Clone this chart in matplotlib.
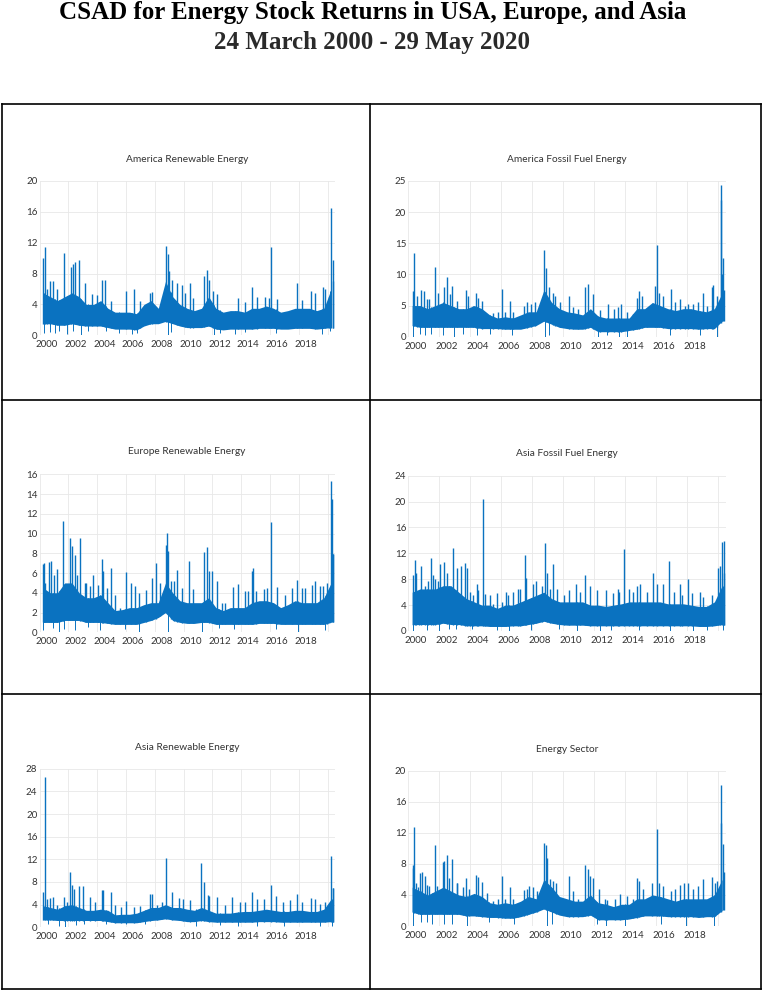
#!/usr/bin/env python3
"""CSAD panels for energy stock returns (USA, Europe, Asia), 2000-2020."""

import numpy as np
import matplotlib
matplotlib.use("Agg")
import matplotlib.pyplot as plt
from matplotlib.lines import Line2D

W, H, DPI = 764, 992, 100
BLUE = "#0a72c0"
GRID = "#e8e8e8"
TEXT = "#333333"

TITLE_1 = "CSAD for Energy Stock Returns in USA, Europe, and Asia"
TITLE_2 = "24 March 2000 - 29 May 2020"

X_LABELS = ["2000", "2002", "2004", "2006", "2008", "2010", "2012", "2014", "2016", "2018"]

# half-year bins (centre dates) for the dense core of each series
HALF_YEARS = np.arange(2000.25, 2020.5, 0.5)

# ---- America Renewable Energy ----
am_ren_hi = [5.5, 5.0, 4.5, 5.0, 5.5, 5.0, 4.0, 4.0, 4.5, 3.5, 3.0, 3.0, 3.0, 2.8,
             4.0, 4.5, 3.5, 7.0, 5.0, 4.0, 3.5, 3.2, 3.5, 5.0, 3.5, 3.0, 3.2, 3.2,
             3.0, 3.5, 3.5, 3.8, 3.5, 3.0, 3.2, 3.5, 3.5, 3.5, 3.2, 3.5, 6.0]
am_ren_lo = [1.5, 1.5, 1.3, 1.3, 1.5, 1.3, 1.2, 1.2, 1.2, 1.0, 0.8, 0.8, 0.8, 0.7,
             1.2, 1.5, 1.5, 1.8, 1.5, 1.2, 1.0, 1.0, 1.0, 1.2, 0.8, 0.7, 0.8, 0.8,
             0.8, 0.8, 0.9, 0.9, 0.9, 0.8, 0.8, 0.9, 0.9, 0.9, 0.8, 0.9, 1.0]
am_ren_peaks = [
    (2000.26, 10.0), (2000.35, 11.4), (2000.55, 6.0), (2000.74, 7.1), (2000.97, 7.1),
    (2001.20, 6.0), (2001.67, 10.7), (2002.18, 8.8), (2002.31, 9.3), (2002.48, 9.5),
    (2002.75, 9.8), (2003.17, 6.8), (2003.63, 5.4), (2003.98, 5.2), (2004.33, 7.2),
    (2004.56, 7.2), (2004.98, 4.5), (2006.00, 5.7), (2006.53, 6.0), (2006.99, 4.5),
    (2007.69, 5.5), (2007.80, 5.6), (2008.77, 11.6), (2008.89, 10.5), (2008.96, 8.3),
    (2009.19, 7.2), (2009.54, 6.8), (2009.88, 6.5), (2010.12, 5.5), (2010.42, 6.8),
    (2010.69, 4.8), (2011.44, 7.7), (2011.62, 8.5), (2011.78, 7.2), (2012.08, 5.8),
    (2012.36, 5.4), (2013.75, 4.8), (2014.28, 4.3), (2014.79, 6.2), (2015.09, 5.0),
    (2015.67, 5.0), (2015.93, 4.8), (2016.09, 11.4), (2016.48, 4.7), (2017.87, 6.8),
    (2018.22, 4.6), (2018.84, 5.7), (2019.14, 5.5), (2019.68, 6.3), (2019.84, 6.0),
    (2020.07, 5.0), (2020.25, 16.5), (2020.35, 9.8), (2020.40, 7.0),
]
am_ren_dips = [
    (2000.30, 0.3), (2000.75, 0.4), (2001.05, 0.3), (2001.35, 0.5), (2001.90, 0.2),
    (2002.30, 0.6), (2002.90, 0.0), (2003.40, 0.6), (2004.60, 0.5), (2005.50, 0.3),
    (2006.40, 0.2), (2006.80, 0.3), (2008.90, 0.0), (2009.10, 0.4), (2012.10, 0.0),
    (2012.50, 0.3), (2013.60, 0.2), (2014.30, 0.4), (2016.40, 0.3), (2019.60, 0.2),
    (2020.20, 0.5),
]

# ---- America Fossil Fuel Energy ----
am_fos_hi = [5.0, 5.0, 4.5, 5.0, 5.5, 5.0, 4.5, 4.5, 5.0, 4.5, 3.5, 3.0, 3.2, 3.0,
             3.5, 4.0, 4.0, 7.5, 5.5, 4.5, 4.0, 3.8, 3.5, 4.5, 3.3, 3.0, 3.0, 3.0,
             3.0, 4.5, 4.5, 5.5, 5.0, 4.5, 4.2, 4.5, 4.5, 4.2, 4.0, 4.5, 7.0]
am_fos_lo = [1.8, 1.5, 1.5, 1.5, 1.5, 1.5, 1.5, 1.5, 1.5, 1.3, 1.3, 1.3, 1.2, 1.2,
             1.2, 1.5, 1.8, 2.5, 2.0, 1.5, 1.3, 1.2, 1.2, 1.5, 0.8, 0.8, 0.8, 0.8,
             1.0, 1.2, 1.5, 1.5, 1.5, 1.3, 1.3, 1.3, 1.3, 1.2, 1.3, 1.3, 2.5]
am_fos_peaks = [
    (2000.28, 7.3), (2000.39, 13.5), (2000.54, 6.5), (2000.80, 7.5), (2001.03, 7.3),
    (2001.23, 6.0), (2001.35, 6.0), (2001.72, 11.2), (2001.89, 7.0), (2002.30, 8.0),
    (2002.52, 9.6), (2002.69, 6.8), (2002.82, 8.2), (2003.12, 5.8), (2003.72, 7.5),
    (2003.87, 6.5), (2004.15, 5.0), (2004.37, 7.0), (2004.52, 6.2), (2004.77, 5.8),
    (2005.48, 3.8), (2005.81, 4.0), (2006.04, 7.6), (2006.24, 4.0), (2006.54, 5.8),
    (2006.77, 4.0), (2007.46, 5.0), (2007.63, 5.5), (2007.91, 5.3), (2008.17, 5.5),
    (2008.75, 13.9), (2008.86, 11.0), (2009.08, 8.0), (2009.31, 7.0), (2009.46, 6.5),
    (2009.78, 5.5), (2010.37, 6.5), (2010.65, 4.8), (2010.97, 4.5), (2011.40, 8.0),
    (2011.59, 8.5), (2011.89, 6.8), (2012.37, 4.3), (2012.86, 5.2), (2013.29, 4.5),
    (2013.55, 4.7), (2013.70, 5.2), (2014.09, 4.0), (2014.52, 3.7), (2014.73, 6.2),
    (2014.86, 7.3), (2015.05, 6.5), (2015.38, 4.2), (2015.91, 8.2), (2016.02, 14.7),
    (2016.19, 7.0), (2016.45, 6.5), (2016.92, 7.7), (2017.20, 5.5), (2017.53, 6.0),
    (2017.85, 5.0), (2018.06, 5.3), (2018.34, 5.2), (2018.71, 5.5), (2019.03, 7.0),
    (2019.29, 5.0), (2019.61, 8.0), (2019.68, 8.3), (2019.89, 6.5), (2020.15, 24.3),
    (2020.19, 22.0), (2020.26, 10.0), (2020.32, 12.6), (2020.39, 7.5),
]
am_fos_dips = [
    (2000.30, 0.0), (2000.75, 0.5), (2001.10, 0.3), (2001.45, 0.5), (2002.25, 0.3),
    (2002.95, 0.0), (2003.50, 0.5), (2004.45, 0.3), (2005.30, 0.5), (2006.70, 0.3),
    (2008.85, 0.0), (2009.05, 0.3), (2012.25, 0.0), (2012.80, 0.2), (2013.60, 0.0),
    (2014.10, 0.0), (2016.90, 0.3), (2018.80, 0.2), (2019.90, 0.0),
]

# ---- Europe Renewable Energy ----
eu_ren_hi = [4.5, 4.0, 4.0, 5.0, 5.0, 4.0, 3.5, 3.5, 3.8, 3.0, 2.2, 2.3, 2.5, 2.5,
             2.8, 3.0, 3.0, 5.0, 4.0, 3.2, 3.0, 3.0, 3.0, 3.5, 2.5, 2.2, 2.5, 2.5,
             2.5, 3.0, 3.2, 3.2, 3.0, 2.5, 2.8, 3.2, 3.0, 3.0, 3.0, 3.5, 5.0]
eu_ren_lo = [1.0, 1.0, 1.0, 1.2, 1.2, 1.2, 1.0, 1.0, 1.0, 0.9, 0.8, 0.8, 0.8, 0.8,
             1.0, 1.2, 1.5, 2.0, 1.2, 1.0, 0.9, 0.9, 1.0, 1.0, 0.8, 0.8, 0.8, 0.8,
             0.8, 0.8, 0.9, 0.9, 0.9, 0.8, 0.8, 0.8, 0.8, 0.8, 0.8, 0.8, 1.0]
eu_ren_peaks = [
    (2000.23, 6.9), (2000.28, 7.0), (2000.39, 5.0), (2000.69, 7.1), (2000.79, 7.2),
    (2001.02, 5.8), (2001.20, 6.4), (2001.66, 11.3), (2002.15, 9.5), (2002.27, 8.7),
    (2002.48, 7.8), (2002.59, 5.8), (2002.78, 9.6), (2003.17, 5.0), (2003.24, 5.0),
    (2003.52, 4.7), (2003.70, 5.8), (2004.05, 4.8), (2004.33, 7.4), (2004.44, 6.2),
    (2004.68, 4.5), (2004.98, 6.5), (2005.25, 3.8), (2005.60, 2.5), (2006.02, 6.1),
    (2006.37, 5.0), (2006.60, 4.7), (2006.88, 4.0), (2007.41, 4.3), (2007.80, 5.5),
    (2008.06, 7.0), (2008.38, 5.0), (2008.77, 8.8), (2008.82, 10.1), (2008.91, 8.2),
    (2009.14, 5.2), (2009.31, 5.2), (2009.54, 6.3), (2009.88, 4.5), (2010.39, 7.2),
    (2010.69, 4.4), (2011.44, 8.1), (2011.64, 8.6), (2011.78, 6.2), (2011.97, 6.2),
    (2012.34, 5.2), (2012.66, 3.0), (2012.89, 3.0), (2013.47, 4.6), (2013.75, 4.9),
    (2014.28, 4.2), (2014.51, 4.2), (2014.75, 6.2), (2014.81, 6.5), (2015.05, 4.2),
    (2015.56, 4.4), (2015.79, 4.5), (2016.09, 11.2), (2016.48, 4.6), (2017.08, 3.8),
    (2017.52, 4.5), (2017.87, 5.3), (2018.22, 4.5), (2018.45, 4.5), (2018.91, 4.8),
    (2019.14, 5.2), (2019.49, 4.7), (2019.72, 4.7), (2019.95, 5.0), (2020.25, 15.3),
    (2020.30, 13.5), (2020.35, 7.9), (2020.40, 7.9),
]
eu_ren_dips = [
    (2000.25, 0.2), (2000.95, 0.4), (2001.35, 0.0), (2001.70, 0.3), (2002.45, 0.2),
    (2003.35, 0.5), (2004.20, 0.2), (2005.95, 0.3), (2006.90, 0.0), (2008.95, 0.0),
    (2011.25, 0.0), (2012.45, 0.4), (2013.50, 0.3), (2016.45, 0.3), (2017.95, 0.0),
    (2019.80, 0.2),
]

# ---- Asia Fossil Fuel Energy ----
as_fos_hi = [6.0, 6.5, 6.5, 6.5, 7.0, 7.0, 6.0, 5.0, 4.5, 4.0, 4.0, 3.5, 4.0, 4.0,
             4.5, 5.0, 5.5, 6.0, 5.0, 4.5, 4.5, 4.5, 4.5, 4.0, 4.0, 3.8, 4.0, 4.2,
             4.5, 4.5, 4.5, 4.5, 4.5, 4.2, 4.2, 4.2, 4.0, 3.8, 3.8, 4.5, 7.0]
as_fos_lo = [1.0, 1.0, 1.0, 1.0, 1.2, 1.0, 1.0, 0.8, 0.8, 0.8, 0.7, 0.7, 0.7, 0.8,
             0.8, 1.0, 1.2, 1.5, 1.2, 1.0, 0.9, 0.9, 0.9, 0.8, 0.8, 0.8, 0.8, 0.8,
             0.8, 0.8, 0.8, 0.8, 0.8, 0.8, 0.8, 0.8, 0.8, 0.7, 0.7, 0.8, 1.0]
as_fos_peaks = [
    (2000.28, 8.6), (2000.41, 11.0), (2000.47, 9.0), (2000.71, 6.0), (2000.84, 10.0),
    (2001.08, 7.0), (2001.29, 7.8), (2001.46, 11.3), (2001.61, 8.7), (2001.72, 8.0),
    (2001.94, 7.8), (2002.04, 10.3), (2002.30, 10.6), (2002.52, 9.0), (2002.90, 12.9),
    (2003.16, 9.8), (2003.40, 10.0), (2003.66, 10.5), (2003.81, 9.8), (2003.98, 6.0),
    (2004.19, 5.5), (2004.41, 7.2), (2004.52, 6.3), (2004.80, 20.4), (2004.97, 5.7),
    (2005.27, 5.5), (2005.48, 4.2), (2005.70, 5.8), (2006.02, 4.5), (2006.30, 6.0),
    (2006.45, 5.5), (2006.77, 6.0), (2007.10, 6.5), (2007.20, 6.5), (2007.53, 11.8),
    (2007.59, 8.2), (2008.06, 7.3), (2008.24, 7.7), (2008.60, 7.0), (2008.80, 13.6),
    (2008.92, 9.0), (2009.14, 6.5), (2009.31, 10.4), (2009.57, 6.5), (2010.04, 5.5),
    (2010.39, 6.3), (2010.80, 7.2), (2011.08, 6.0), (2011.40, 8.6), (2011.72, 7.0),
    (2012.15, 6.3), (2012.73, 6.3), (2013.23, 5.8), (2013.55, 6.5), (2013.61, 6.0),
    (2013.91, 12.6), (2014.26, 6.5), (2014.52, 6.0), (2014.77, 7.0), (2014.95, 7.2),
    (2015.38, 6.0), (2015.76, 9.0), (2016.06, 7.3), (2016.45, 7.3), (2016.82, 10.8),
    (2017.14, 6.0), (2017.53, 7.3), (2017.68, 5.5), (2018.06, 8.0), (2018.28, 5.8),
    (2018.82, 6.0), (2019.03, 5.3), (2019.61, 5.5), (2020.00, 9.8), (2020.11, 10.0),
    (2020.22, 13.8), (2020.37, 13.9), (2020.39, 9.0),
]
as_fos_dips = [
    (2000.30, 0.0), (2001.20, 0.2), (2002.00, 0.0), (2002.60, 0.3), (2003.10, 0.3),
    (2004.10, 0.3), (2005.70, 0.2), (2006.50, 0.0), (2007.90, 0.2), (2009.70, 0.3),
    (2010.90, 0.0), (2012.40, 0.0), (2013.10, 0.2), (2014.90, 0.2), (2016.90, 0.0),
    (2018.40, 0.0), (2019.30, 0.2), (2020.30, 0.2),
]

# ---- Asia Renewable Energy ----
as_ren_hi = [3.8, 3.5, 3.2, 3.8, 4.0, 3.5, 3.0, 3.0, 3.2, 3.0, 2.2, 2.3, 2.3, 2.5,
             3.0, 3.5, 3.5, 4.0, 3.5, 3.5, 3.2, 3.0, 3.5, 3.0, 2.5, 2.5, 2.5, 2.7,
             2.8, 2.8, 3.0, 3.2, 3.0, 2.8, 2.8, 3.0, 3.0, 2.8, 2.8, 3.2, 5.0]
as_ren_lo = [1.3, 1.3, 1.2, 1.2, 1.2, 1.2, 1.2, 1.2, 1.2, 1.0, 0.8, 0.8, 0.8, 0.8,
             1.0, 1.2, 1.3, 1.5, 1.3, 1.2, 1.0, 1.0, 1.2, 1.0, 0.9, 0.9, 0.9, 0.9,
             0.9, 0.9, 1.0, 1.0, 1.0, 0.9, 0.9, 0.9, 0.9, 0.9, 0.9, 0.9, 1.0]
as_ren_peaks = [
    (2000.23, 6.2), (2000.35, 26.5), (2000.51, 5.0), (2000.74, 5.1), (2000.97, 5.4),
    (2001.20, 4.0), (2001.67, 5.4), (2001.90, 4.5), (2002.15, 9.8), (2002.27, 7.5),
    (2002.41, 6.8), (2002.75, 7.3), (2003.01, 7.3), (2003.52, 5.3), (2003.87, 4.5),
    (2004.33, 6.5), (2004.44, 6.5), (2004.98, 6.2), (2005.25, 4.0), (2005.67, 3.5),
    (2006.00, 4.7), (2006.53, 3.5), (2006.99, 3.8), (2007.64, 5.8), (2007.80, 5.9),
    (2008.15, 4.0), (2008.50, 4.5), (2008.80, 12.3), (2009.19, 6.3), (2009.70, 5.2),
    (2009.95, 5.0), (2010.46, 4.8), (2011.20, 11.4), (2011.39, 8.0), (2011.67, 5.7),
    (2011.78, 5.6), (2012.31, 5.3), (2012.89, 4.0), (2013.40, 5.4), (2013.94, 4.5),
    (2014.28, 4.5), (2014.75, 6.2), (2015.09, 5.0), (2015.56, 5.0), (2016.09, 7.4),
    (2016.44, 5.5), (2016.94, 4.5), (2017.41, 4.8), (2017.87, 5.9), (2018.22, 4.5),
    (2018.84, 5.2), (2019.14, 5.0), (2019.49, 4.2), (2019.84, 4.5), (2020.25, 12.6),
    (2020.35, 7.0), (2020.40, 7.0),
]
as_ren_dips = [
    (2000.60, 0.5), (2001.35, 0.3), (2001.75, 0.0), (2002.50, 0.4), (2003.10, 0.5),
    (2004.60, 0.5), (2006.00, 0.6), (2007.35, 0.5), (2010.90, 0.3), (2012.50, 0.4),
    (2013.80, 0.2), (2015.10, 0.3), (2016.95, 0.3), (2019.50, 0.3), (2020.30, 0.2),
]

# ---- Energy Sector ----
en_sec_hi = [5.0, 4.5, 4.0, 4.5, 5.0, 4.5, 4.0, 3.8, 4.2, 3.8, 3.0, 2.8, 3.0, 2.8,
             3.2, 3.8, 3.5, 6.0, 5.0, 3.8, 3.5, 3.2, 3.2, 4.0, 3.0, 2.8, 2.5, 2.8,
             2.8, 3.5, 3.5, 4.0, 3.8, 3.5, 3.2, 3.5, 3.5, 3.5, 3.5, 4.0, 6.0]
en_sec_lo = [1.8, 1.5, 1.5, 1.5, 1.5, 1.5, 1.5, 1.3, 1.3, 1.2, 1.1, 1.1, 1.0, 1.0,
             1.2, 1.5, 1.8, 2.2, 1.8, 1.4, 1.2, 1.2, 1.2, 1.4, 0.8, 0.8, 0.8, 0.8,
             0.9, 1.1, 1.3, 1.3, 1.3, 1.2, 1.2, 1.2, 1.2, 1.1, 1.2, 1.2, 2.0]
en_sec_peaks = [
    (2000.28, 7.5), (2000.32, 7.8), (2000.39, 12.7), (2000.49, 5.5), (2000.65, 5.0),
    (2000.75, 6.8), (2000.86, 7.0), (2001.08, 6.4), (2001.23, 5.3), (2001.35, 5.2),
    (2001.72, 10.4), (2001.83, 5.2), (2002.22, 8.3), (2002.30, 8.4), (2002.52, 9.1),
    (2002.62, 6.2), (2002.82, 8.6), (2003.12, 5.6), (2003.16, 5.5), (2003.51, 5.0),
    (2003.72, 6.2), (2003.94, 4.8), (2004.37, 6.6), (2004.52, 6.3), (2004.73, 5.7),
    (2005.05, 4.3), (2005.48, 3.2), (2005.81, 3.5), (2006.04, 6.5), (2006.24, 3.5),
    (2006.54, 5.0), (2006.77, 3.5), (2007.10, 3.0), (2007.46, 4.7), (2007.63, 4.8),
    (2007.78, 5.2), (2008.06, 5.0), (2008.28, 4.5), (2008.77, 10.7), (2008.86, 10.4),
    (2008.97, 8.8), (2009.14, 6.0), (2009.31, 5.8), (2009.53, 5.5), (2010.37, 6.4),
    (2010.65, 4.5), (2010.97, 3.5), (2011.40, 7.8), (2011.59, 7.4), (2011.72, 6.5),
    (2011.89, 6.2), (2012.32, 4.8), (2012.69, 3.5), (2012.84, 3.3), (2013.33, 3.5),
    (2013.66, 4.1), (2014.09, 3.8), (2014.52, 3.5), (2014.73, 6.2), (2014.86, 5.8),
    (2015.16, 4.8), (2015.70, 5.5), (2016.02, 12.5), (2016.19, 5.5), (2016.45, 5.2),
    (2016.92, 4.5), (2017.20, 4.8), (2017.53, 5.3), (2017.81, 5.5), (2018.06, 5.5),
    (2018.39, 4.8), (2018.71, 5.1), (2019.03, 6.0), (2019.61, 6.3), (2019.78, 5.5),
    (2019.94, 5.8), (2020.15, 18.2), (2020.19, 13.3), (2020.32, 10.5), (2020.39, 7.0),
]
en_sec_dips = [
    (2000.30, 0.0), (2000.80, 0.5), (2001.20, 0.5), (2001.55, 0.3), (2002.30, 0.3),
    (2002.85, 0.2), (2003.80, 0.0), (2005.20, 0.5), (2006.80, 0.3), (2008.95, 0.0),
    (2009.30, 0.3), (2012.20, 0.2), (2012.75, 0.0), (2014.00, 0.0), (2016.30, 0.3),
    (2017.90, 0.0), (2019.70, 0.0),
]

# panel table: title, series, y ticks, axes box in pixels (left, top, right, bottom), title y
PANELS = [
    ("America Renewable Energy", am_ren_hi, am_ren_lo, am_ren_peaks, am_ren_dips,
     [0, 4, 8, 12, 16, 20], (39.5, 181.0, 334.7, 335.3), 160),
    ("America Fossil Fuel Energy", am_fos_hi, am_fos_lo, am_fos_peaks, am_fos_dips,
     [0, 5, 10, 15, 20, 25], (408.3, 181.0, 726.0, 336.7), 159),
    ("Europe Renewable Energy", eu_ren_hi, eu_ren_lo, eu_ren_peaks, eu_ren_dips,
     [0, 2, 4, 6, 8, 10, 12, 14, 16], (39.5, 474.3, 334.7, 632.3), 452),
    ("Asia Fossil Fuel Energy", as_fos_hi, as_fos_lo, as_fos_peaks, as_fos_dips,
     [0, 4, 8, 12, 16, 20, 24], (408.3, 475.7, 726.0, 631.0), 454),
    ("Asia Renewable Energy", as_ren_hi, as_ren_lo, as_ren_peaks, as_ren_dips,
     [0, 4, 8, 12, 16, 20, 24, 28], (39.5, 768.7, 334.7, 927.3), 747),
    ("Energy Sector", en_sec_hi, en_sec_lo, en_sec_peaks, en_sec_dips,
     [0, 4, 8, 12, 16, 20], (408.3, 770.7, 726.0, 926.0), 749),
]

plt.rcParams["font.family"] = ["Lato", "DejaVu Sans"]


def fx(px):
    return px / W


def fy(py):
    return 1 - py / H


def draw_panel(fig, title, hi, lo, peaks, dips, yticks, box, title_y):
    left, top, right, bottom = box
    ax = fig.add_axes([fx(left), fy(bottom), fx(right) - fx(left), fy(top) - fy(bottom)])

    ax.fill_between(HALF_YEARS, lo, hi, color=BLUE, linewidth=0, zorder=2)

    pt, pv = zip(*peaks)
    base = np.interp(pt, HALF_YEARS, lo)
    ax.vlines(pt, base, pv, color=BLUE, linewidth=1.0, zorder=3)

    dt, dv = zip(*dips)
    top_of_dip = np.interp(dt, HALF_YEARS, hi)
    ax.vlines(dt, dv, top_of_dip, color=BLUE, linewidth=0.7, zorder=3)

    ax.set_xlim(2000, 2020.5)
    ax.set_ylim(yticks[0], yticks[-1])
    ax.set_yticks(yticks)
    ax.set_yticklabels([str(t) for t in yticks])
    ax.set_xticks([int(lbl) + 0.5 for lbl in X_LABELS])
    ax.set_xticklabels(X_LABELS)
    ax.set_xticks([int(lbl) for lbl in X_LABELS] + [2020], minor=True)

    ax.grid(True, axis="y", color=GRID, linewidth=0.6, zorder=0)
    ax.grid(True, axis="x", which="minor", color=GRID, linewidth=0.6, zorder=0)
    ax.set_axisbelow(True)
    for sp in ax.spines.values():
        sp.set_visible(False)
    ax.tick_params(which="both", length=0, labelsize=7, colors=TEXT)
    ax.tick_params(axis="x", pad=3.5)
    ax.tick_params(axis="y", pad=1.5)

    fig.text(fx((left + right) / 2), fy(title_y), title, ha="center", va="center",
             fontsize=7.3, color=TEXT)


def draw_boxes(fig):
    kw = dict(color="black", linewidth=1.2, transform=fig.transFigure)
    x0, x1, xm = 2.0, 761.0, 370.0
    y0, y1 = 104.0, 989.0
    for yy in (y0, 400.0, 694.0, y1):
        fig.add_artist(Line2D([fx(x0), fx(x1)], [fy(yy), fy(yy)], **kw))
    for xx in (x0, xm, x1):
        fig.add_artist(Line2D([fx(xx), fx(xx)], [fy(y0), fy(y1)], **kw))


def main():
    fig = plt.figure(figsize=(W / DPI, H / DPI), dpi=DPI)
    fig.patch.set_facecolor("white")

    serif = ["Liberation Serif", "DejaVu Serif"]
    fig.text(fx(373), fy(19), TITLE_1, ha="center", va="baseline", fontsize=18,
             fontweight="bold", family=serif, color="black")
    fig.text(fx(372), fy(49), TITLE_2, ha="center", va="baseline", fontsize=18,
             fontweight="bold", family=serif, color="#2a2a2a")

    draw_boxes(fig)
    for panel in PANELS:
        draw_panel(fig, *panel)

    fig.savefig("out.png", dpi=DPI)
    plt.close(fig)


if __name__ == "__main__":
    main()
